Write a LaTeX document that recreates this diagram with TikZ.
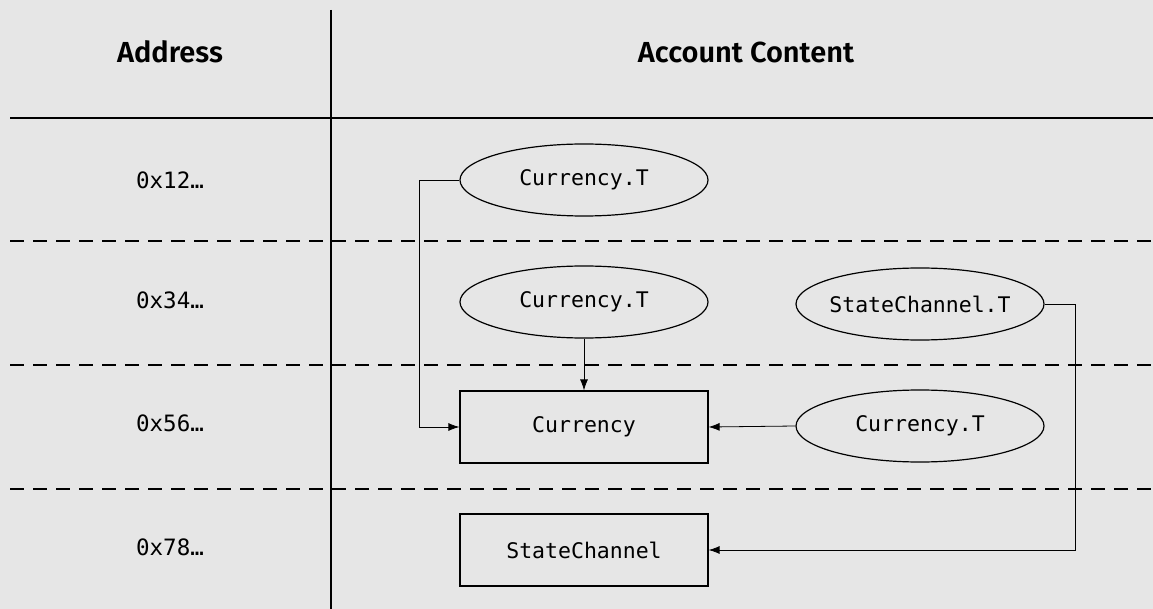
\documentclass[tikz,border=0pt]{standalone}
\usepackage{fontspec}
\setmainfont{Fira Sans}[BoldFont={Fira Sans SemiBold}]
\newfontfamily\monofont{DejaVu Sans Mono}
\usetikzlibrary{arrows.meta,shapes.geometric}
\definecolor{bg}{HTML}{E6E6E6}
\begin{document}
\begin{tikzpicture}[x=1pt,y=-1pt,
  frame/.style={line width=1.3pt, black},
  sep/.style={line width=1.3pt, dash pattern=on 14pt off 9pt},
  head/.style={font=\fontsize{29}{33}\selectfont\bfseries},
  addr/.style={font=\monofont\fontsize{22.5}{26}\selectfont},
  ell/.style={draw, line width=1.2pt, ellipse, minimum width=248pt, minimum height=72pt, inner xsep=-25pt, inner ysep=0pt, font=\monofont\fontsize{21.5}{26}\selectfont},
  box/.style={draw, line width=1.2pt, rectangle, minimum width=248pt, minimum height=72pt, inner sep=0pt, font=\monofont\fontsize{21.5}{26}\selectfont},
  conn/.style={line width=0.8pt, -{Latex[length=11pt,width=8pt]}}
]
\fill[bg] (0,0) rectangle (1153,609);
\useasboundingbox (0,0) rectangle (1153,609);
% grid
\draw[frame] (331,10) -- (331,609);
\draw[frame] (10,118) -- (1153,118);
\draw[sep] (10,241) -- (1153,241);
\draw[sep] (10,365) -- (1153,365);
\draw[sep] (10,489) -- (1153,489);
% headers
\node[head] (hA) at (170,52) {Address};
\node[head] (hC) at (746,52) {Account Content};
% addresses
\node[addr] (a1) at (170,180) {0x12…};
\node[addr] (a2) at (170,300) {0x34…};
\node[addr] (a3) at (170,423) {0x56…};
\node[addr] (a4) at (170,547) {0x78…};
% nodes
\node[ell] (e1) at (584,180) {Currency.T};
\node[ell] (e2) at (584,302) {Currency.T};
\node[ell] (e3) at (920,304) {StateChannel.T};
\node[ell] (e4) at (920,426) {Currency.T};
\node[box] (r1) at (584,427) {Currency};
\node[box] (r2) at (584,550) {StateChannel};
% connectors
\coordinate (k1) at (419,180);
\coordinate (k2) at (1075,304);
\draw[conn] (e1.west) -- (k1) |- (r1.west);
\draw[conn] (e2.south) -- (r1.north);
\draw[conn] (e4.west) -- (r1.east);
\draw[conn] (e3.east) -- (k2) |- (r2.east);
\end{tikzpicture}
\end{document}
